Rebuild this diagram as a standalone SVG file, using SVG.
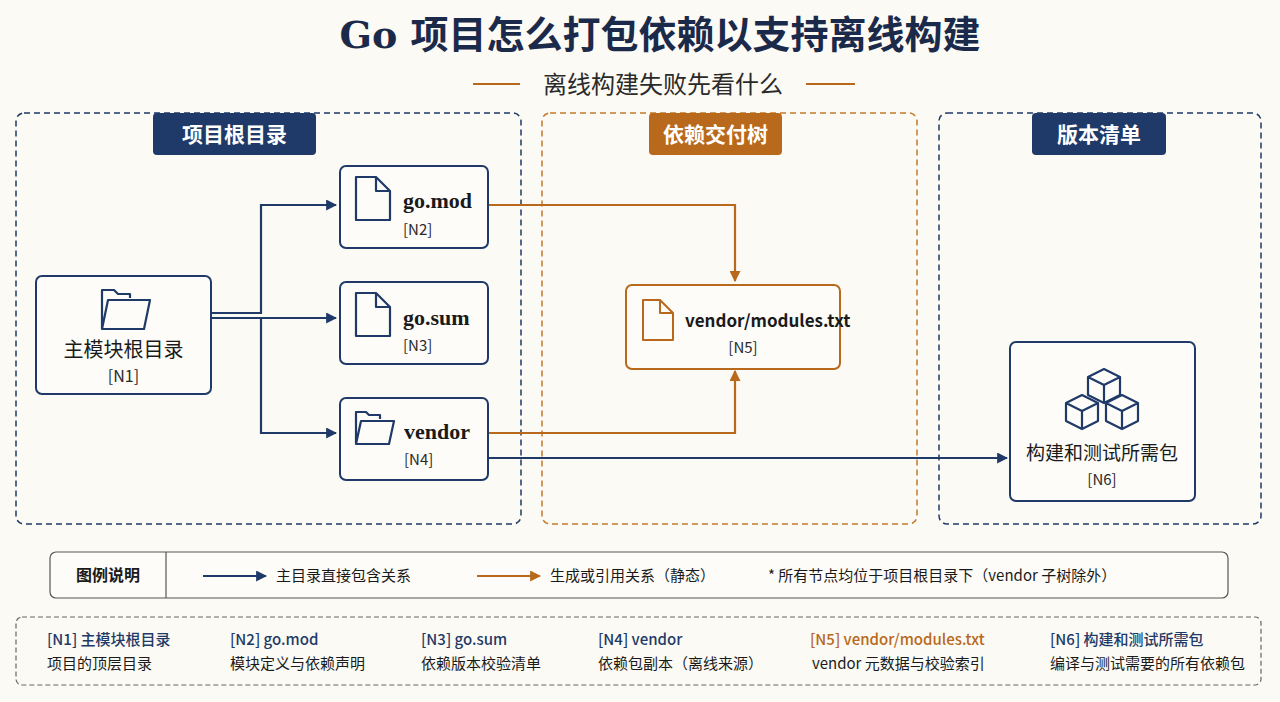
<svg xmlns="http://www.w3.org/2000/svg" width="1280" height="702" viewBox="0 0 1280 702">
<style>
.sans{font-family:"Noto Sans CJK SC","Noto Sans",sans-serif}
.serif{font-family:"DejaVu Serif","Liberation Serif","Noto Sans CJK SC",serif}
.lser{font-family:"Liberation Serif","DejaVu Serif",serif}
.panelN{fill:none;stroke:#1f3a68;stroke-width:1.5;stroke-dasharray:6 4}
.panelO{fill:none;stroke:#c47a2a;stroke-width:1.5;stroke-dasharray:6 4}
.node{fill:#fdfcf8;stroke:#1f3a68;stroke-width:2}
.nodeO{fill:#fdfcf8;stroke:#b8691b;stroke-width:2}
.ln{fill:none;stroke:#1f3a68;stroke-width:2.2}
.lo{fill:none;stroke:#b8691b;stroke-width:2.2}
.icon{fill:none;stroke:#1f3a68;stroke-width:2.2;stroke-linejoin:round}
.iconO{fill:none;stroke:#b8691b;stroke-width:2;stroke-linejoin:round}
</style>
<defs>
<marker id="an" viewBox="0 0 10 10" refX="9" refY="5" markerWidth="5" markerHeight="5" orient="auto"><path d="M0,0L10,5L0,10z" fill="#1f3a68"/></marker>
<marker id="ao" viewBox="0 0 10 10" refX="9" refY="5" markerWidth="5" markerHeight="5" orient="auto"><path d="M0,0L10,5L0,10z" fill="#b8691b"/></marker>
</defs>
<rect width="1280" height="702" fill="#fbfaf4"/>
<text x="660" y="48" text-anchor="middle" class="serif" font-size="38" font-weight="bold" fill="#1b2a4a">Go 项目怎么打包依赖以支持离线构建</text>
<line x1="473" y1="84" x2="520" y2="84" stroke="#b8691b" stroke-width="2"/>
<line x1="806" y1="84" x2="855" y2="84" stroke="#b8691b" stroke-width="2"/>
<text x="663" y="93" text-anchor="middle" class="sans" font-size="24" fill="#2a2a2a">离线构建失败先看什么</text>

<g id="panels">
<rect class="panelN" x="16" y="113" width="505" height="411" rx="8"/>
<rect x="153" y="113" width="163" height="42" rx="4" fill="#1f3a68"/>
<text x="234.5" y="142" text-anchor="middle" class="sans" font-size="21" font-weight="bold" fill="#fff">项目根目录</text>
<rect class="panelO" x="542" y="113" width="375" height="411" rx="8"/>
<rect x="649" y="113" width="133" height="42" rx="4" fill="#b8691b"/>
<text x="715.5" y="142" text-anchor="middle" class="sans" font-size="21" font-weight="bold" fill="#fff">依赖交付树</text>
<rect class="panelN" x="939" y="113" width="322" height="411" rx="8"/>
<rect x="1032" y="113" width="134" height="42" rx="4" fill="#1f3a68"/>
<text x="1099" y="142" text-anchor="middle" class="sans" font-size="21" font-weight="bold" fill="#fff">版本清单</text>
</g>

<g id="connectors">
<path class="ln" d="M211,313H261V205H336" marker-end="url(#an)"/>
<path class="ln" d="M211,318H336" marker-end="url(#an)"/>
<path class="ln" d="M261,318V433H336" marker-end="url(#an)"/>
<path class="lo" d="M488,205H735V281" marker-end="url(#ao)"/>
<path class="lo" d="M488,433H735V371" marker-end="url(#ao)"/>
<path class="ln" d="M488,458H1007" marker-end="url(#an)"/>
</g>

<g id="N1">
<rect class="node" x="36" y="276" width="175" height="118" rx="6"/>
<path class="icon" d="M102,329V290H114L118,294H130V298M102,329L108,300H150L144,329Z"/>
<text x="123.5" y="357" text-anchor="middle" class="sans" font-size="20" fill="#1a1a1a">主模块根目录</text>
<text x="123.5" y="382" text-anchor="middle" class="sans" font-size="16" fill="#2a2a2a">[N1]</text>
</g>
<g id="N2">
<rect class="node" x="340" y="166" width="148" height="82" rx="6"/>
<path class="icon" d="M356,177H376L390,191V220H356Z M376,177V191H390"/>
<text x="403" y="208" class="lser" font-size="22" font-weight="bold" fill="#1a1a1a">go.mod</text>
<text x="403" y="235" class="sans" font-size="15" fill="#2a2a2a">[N2]</text>
</g>
<g id="N3">
<rect class="node" x="340" y="282" width="148" height="82" rx="6"/>
<path class="icon" d="M356,293H376L390,307V336H356Z M376,293V307H390"/>
<text x="403" y="325" class="lser" font-size="22" font-weight="bold" fill="#1a1a1a">go.sum</text>
<text x="403" y="351" class="sans" font-size="15" fill="#2a2a2a">[N3]</text>
</g>
<g id="N4">
<rect class="node" x="340" y="398" width="148" height="82" rx="6"/>
<path class="icon" d="M356,444V412H366L369,415H380V419M356,444L361,421H394L389,444Z"/>
<text x="404" y="439" class="lser" font-size="22" font-weight="bold" fill="#1a1a1a">vendor</text>
<text x="404" y="465" class="sans" font-size="15" fill="#2a2a2a">[N4]</text>
</g>
<g id="N5">
<rect class="nodeO" x="626" y="285" width="214" height="84" rx="6"/>
<path class="iconO" d="M643,300H660L673,313V340H643Z M660,300V313H673"/>
<text x="685" y="327" class="sans" font-size="17" font-weight="bold" fill="#1a1a1a">vendor/modules.txt</text>
<text x="743" y="353" text-anchor="middle" class="sans" font-size="15" fill="#2a2a2a">[N5]</text>
</g>
<g id="N6">
<rect class="node" x="1010" y="342" width="185" height="159" rx="6"/>
<g class="icon" stroke-width="2">
<path d="M1088,377L1104,369L1120,377L1104,385ZM1088,377V395L1104,403V385M1120,377V395L1104,403"/>
<path d="M1066,403L1082,395L1098,403L1082,411ZM1066,403V421L1082,429V411M1098,403V421L1082,429"/>
<path d="M1106,403L1122,395L1138,403L1122,411ZM1106,403V421L1122,429V411M1138,403V421L1122,429"/>
</g>
<text x="1102" y="460" text-anchor="middle" class="sans" font-size="19" fill="#1a1a1a">构建和测试所需包</text>
<text x="1102" y="485" text-anchor="middle" class="sans" font-size="15" fill="#2a2a2a">[N6]</text>
</g>

<g id="legend">
<rect x="50" y="552" width="1178" height="46" rx="6" fill="#fdfcf8" stroke="#555" stroke-width="1.2"/>
<line x1="166" y1="552" x2="166" y2="598" stroke="#555" stroke-width="1.2"/>
<text x="108" y="581" text-anchor="middle" class="sans" font-size="16" font-weight="bold" fill="#1a1a1a">图例说明</text>
<line x1="203" y1="576" x2="266" y2="576" class="ln" marker-end="url(#an)"/>
<text x="276" y="581" class="sans" font-size="15" fill="#1a1a1a">主目录直接包含关系</text>
<line x1="477" y1="576" x2="540" y2="576" class="lo" marker-end="url(#ao)"/>
<text x="550" y="581" class="sans" font-size="15" fill="#1a1a1a">生成或引用关系（静态）</text>
<text x="768" y="581" class="sans" font-size="15" fill="#1a1a1a">* 所有节点均位于项目根目录下（vendor 子树除外）</text>
</g>

<g id="notes">
<rect x="16" y="617" width="1245" height="68" rx="6" fill="none" stroke="#666" stroke-width="1.2" stroke-dasharray="5 3"/>
<g class="sans" font-size="15">
<text x="47" y="645" fill="#1f3a68" font-weight="500">[N1] 主模块根目录</text>
<text x="47" y="669" fill="#1a1a1a">项目的顶层目录</text>
<text x="230" y="645" fill="#1f3a68" font-weight="500">[N2] go.mod</text>
<text x="230" y="669" fill="#1a1a1a">模块定义与依赖声明</text>
<text x="421" y="645" fill="#1f3a68" font-weight="500">[N3] go.sum</text>
<text x="421" y="669" fill="#1a1a1a">依赖版本校验清单</text>
<text x="598" y="645" fill="#1f3a68" font-weight="500">[N4] vendor</text>
<text x="598" y="669" fill="#1a1a1a">依赖包副本（离线来源）</text>
<text x="810" y="645" fill="#b8691b" font-weight="500">[N5] vendor/modules.txt</text>
<text x="812" y="669" fill="#1a1a1a">vendor 元数据与校验索引</text>
<text x="1050" y="645" fill="#1f3a68" font-weight="500">[N6] 构建和测试所需包</text>
<text x="1050" y="669" fill="#1a1a1a">编译与测试需要的所有依赖包</text>
</g>
</g>
</svg>
